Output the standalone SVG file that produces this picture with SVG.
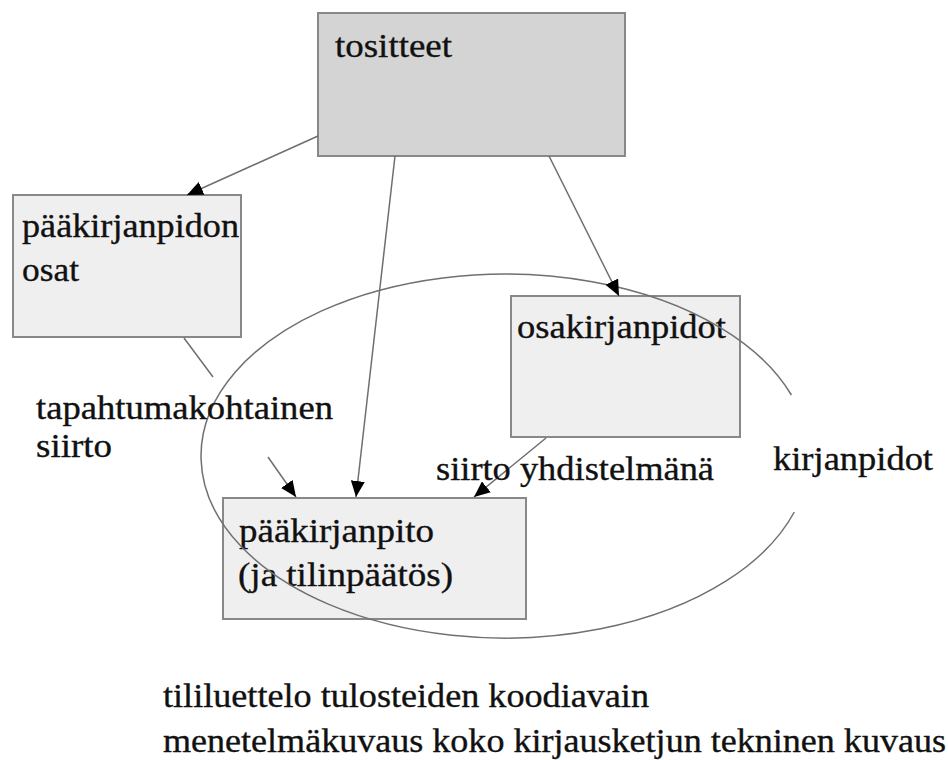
<svg xmlns="http://www.w3.org/2000/svg" width="948" height="760" viewBox="0 0 948 760">
<style>
  .box { stroke: #888888; stroke-width: 2; }
  .light { fill: #f0eff0; }
  .dark { fill: #d4d4d4; }
  .t { font-family: "Liberation Serif", "Times New Roman", serif; font-size: 34px; fill: #111111; stroke: #111111; stroke-width: 0.35; }
  .edge { stroke: #6e6e6e; stroke-width: 1.5; fill: none; }
  .arr { marker-end: url(#ah); }
  .ring { stroke: #707070; stroke-width: 1.5; fill: none; }
</style>
<defs>
  <marker id="ah" markerUnits="userSpaceOnUse" markerWidth="17" markerHeight="14" refX="16" refY="7" orient="auto">
    <path d="M0,0 L16,7 L0,14 z" fill="#000"/>
  </marker>
</defs>
<rect width="948" height="760" fill="#ffffff"/>
<g id="tositteet">
  <rect class="box dark" x="318" y="13" width="307" height="143"/>
  <text class="t" x="335" y="57" textLength="117" lengthAdjust="spacingAndGlyphs">tositteet</text>
</g>
<g id="paakirjanpidon-osat">
  <rect class="box light" x="13" y="195" width="228" height="142"/>
  <text class="t" x="22" y="237" textLength="217" lengthAdjust="spacingAndGlyphs">pääkirjanpidon</text>
  <text class="t" x="22" y="281" textLength="57" lengthAdjust="spacingAndGlyphs">osat</text>
</g>
<g id="osakirjanpidot">
  <rect class="box light" x="511" y="296" width="229" height="141"/>
  <text class="t" x="517" y="338" textLength="209" lengthAdjust="spacingAndGlyphs">osakirjanpidot</text>
</g>
<g id="paakirjanpito">
  <rect class="box light" x="223" y="498" width="303" height="121"/>
  <text class="t" x="239" y="542" textLength="195" lengthAdjust="spacingAndGlyphs">pääkirjanpito</text>
  <text class="t" x="238" y="586" textLength="215" lengthAdjust="spacingAndGlyphs">(ja tilinpäätös)</text>
</g>
<g id="kirjanpidot">
  <path class="ring" d="M794.3,512 A304,182 0 1 1 791.4,395"/>
  <text class="t" x="773" y="470" textLength="160" lengthAdjust="spacingAndGlyphs">kirjanpidot</text>
</g>

<g id="connectors">
  <line class="edge arr" x1="318" y1="136" x2="187" y2="195"/>
  <line class="edge arr" x1="395" y1="156" x2="356" y2="497"/>
  <line class="edge arr" x1="549" y1="156" x2="619" y2="296"/>
  <line class="edge" x1="184" y1="338" x2="213" y2="377"/>
  <line class="edge arr" x1="268" y1="457" x2="296" y2="497"/>
  <line class="edge arr" x1="546" y1="438" x2="474" y2="497"/>
</g>

<g id="labels">
  <text class="t" x="36" y="419" textLength="297" lengthAdjust="spacingAndGlyphs">tapahtumakohtainen</text>
  <text class="t" x="36" y="457" textLength="76" lengthAdjust="spacingAndGlyphs">siirto</text>
  <text class="t" x="436" y="480" textLength="278" lengthAdjust="spacingAndGlyphs">siirto yhdistelmänä</text>
  <text class="t" x="163" y="707" textLength="486" lengthAdjust="spacingAndGlyphs">tililuettelo tulosteiden koodiavain</text>
  <text class="t" x="163" y="752" textLength="783" lengthAdjust="spacingAndGlyphs">menetelmäkuvaus koko kirjausketjun tekninen kuvaus</text>
</g>
</svg>
